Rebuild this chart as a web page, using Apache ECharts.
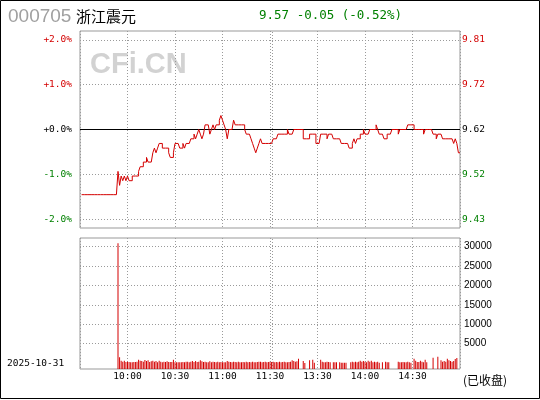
<!DOCTYPE html>
<html><head><meta charset="utf-8">
<script src="https://cdn.jsdelivr.net/npm/echarts@6/dist/echarts.min.js"></script>
<style>html,body{margin:0;padding:0;background:#fff}#c{width:540px;height:400px}</style>
</head><body><div id="c"></div>
<script>
// ---- data ----
const stockCode = '000705';
const stockName = '浙江震元';
const tradeDate = '2025-10-31';
const statusText = '(已收盘)';
const watermark = 'CFi.CN';
const prevClose = 9.62;
const lastPrice = 9.57;
// minute-by-minute price, minute 1 (9:31) ... minute 240 (15:00)
const prices = [
 9.48,9.48,9.48,9.48,9.48,9.48,9.48,9.48,9.48,9.48,9.48,9.48,9.48,9.48,9.48,9.48,9.48,9.48,9.48,9.48,9.48,9.48,9.48,
 9.53,9.50,9.52,9.51,9.52,9.51,9.52,9.51,9.51,9.52,9.52,9.52,9.52,9.53,9.54,9.54,9.55,
 9.55,9.56,9.55,9.55,9.55,9.57,9.58,9.57,9.58,9.59,9.59,9.58,9.58,9.58,9.58,9.57,9.56,9.56,9.57,9.59,
 9.59,9.59,9.58,9.58,9.59,9.58,9.59,9.59,9.59,9.60,9.60,9.61,9.60,9.61,9.62,9.61,9.60,9.61,9.63,9.63,
 9.63,9.61,9.62,9.63,9.62,9.63,9.63,9.64,9.65,9.64,9.63,9.62,9.60,9.62,9.62,9.62,9.64,9.63,9.63,9.63,
 9.63,9.63,9.63,9.62,9.61,9.61,9.61,9.60,9.59,9.58,9.57,9.58,9.59,9.60,9.59,9.59,9.59,9.59,9.59,9.59,
 9.59,9.60,9.60,9.60,9.61,9.61,9.61,9.61,9.61,9.61,9.62,9.61,9.61,9.61,9.62,9.62,9.62,9.62,9.62,9.62,
 9.60,9.60,9.60,9.60,9.61,9.61,9.61,9.61,9.59,9.59,9.59,9.61,9.61,9.61,9.61,9.60,9.61,9.61,9.61,9.60,
 9.60,9.60,9.60,9.60,9.59,9.59,9.59,9.59,9.59,9.58,9.58,9.59,9.60,9.59,9.60,9.60,9.61,9.61,9.62,9.61,
 9.61,9.61,9.62,9.62,9.62,9.62,9.63,9.62,9.61,9.61,9.61,9.60,9.60,9.61,9.61,9.61,9.62,9.62,9.62,9.62,
 9.61,9.62,9.62,9.62,9.62,9.62,9.63,9.63,9.63,9.63,9.62,9.62,9.62,9.62,9.62,9.62,9.61,9.62,9.62,9.62,
 9.62,9.62,9.61,9.61,9.60,9.61,9.61,9.61,9.60,9.60,9.60,9.60,9.60,9.60,9.60,9.59,9.60,9.59,9.57,9.57
];
const volumes = [
 0,0,0,0,0,0,0,0,0,0,0,0,0,0,0,0,0,0,0,0,0,0,0,
 32300,3000,2140,1890,2140,1800,1890,1800,1710,1710,1800,1800,1890,2400,2140,2060,1890,
 2310,2060,2230,1800,1970,2140,1890,2060,1710,2140,1890,1710,1890,1800,1970,1800,1800,1800,2400,1710,
 1710,1710,1710,1710,1800,1710,1890,1890,1710,1890,2060,1800,2060,1800,1890,2230,1970,1800,1890,1710,
 1710,1970,1710,1890,1800,1710,1890,1710,1800,1710,1710,1710,2060,1890,1800,1710,1890,1800,1710,1890,
 1710,1710,1800,1710,1890,1710,1800,1710,1890,1710,1710,1800,1890,1890,1710,1800,1890,1710,1800,1890,
 1800,1890,1710,1800,1710,1890,1710,1800,1890,1710,1710,1800,1890,2230,2060,1890,1970,2660,0,0,
 2060,1540,0,0,2230,0,2400,1630,0,0,0,2400,1890,1710,1710,1890,1800,1710,0,1710,
 1710,1710,0,1710,1630,1630,1630,1630,0,0,1710,1890,1710,1890,1710,1890,2140,1890,2060,1890,
 1710,2140,1890,2140,1710,1890,1710,1890,1630,0,1710,0,1890,1710,1710,0,0,0,0,0,
 1890,1710,1710,1800,1710,1710,1890,1710,1630,0,2660,2140,1800,1800,2140,1890,1710,2400,1710,0,
 0,0,2910,0,0,3170,0,2230,1890,2060,1890,2660,2230,2060,1890,2060,2580,2830,0,0
];
const timeTickMinutes = [30, 60, 90, 120, 150, 180, 210];
const timeLabels = ['10:00', '10:30', '11:00', '11:30', '13:30', '14:00', '14:30'];
const lunchMinute = 121.3;
const pctTicks = [-2, -1, 0, 1, 2];
const volTicks = [5000, 10000, 15000, 20000, 25000, 30000];

// ---- chart ----
const RED = '#d40000', GREEN = '#008000', GRID = '#9a9a9a';
const MONO = 'DejaVu Sans Mono';
const labelMap = {};
timeTickMinutes.forEach((m, i) => labelMap[m] = timeLabels[i]);
const pctColor = v => v > 0 ? RED : (v < 0 ? GREEN : '#000');
const dotted = { color: GRID, type: [1, 2], width: 1 };

const priceData = prices.map((p, i) => [i + 1, (p / prevClose - 1) * 100]);
const volData = volumes.map((v, i) => [i + 1, v]);
const chg = lastPrice - prevClose;
const header = lastPrice.toFixed(2) + ' ' + chg.toFixed(2) + ' (' + (chg / prevClose * 100).toFixed(2) + '%)';

const chart = echarts.init(document.getElementById('c'), null, { renderer: 'canvas' });
chart.setOption({
  animation: false,
  backgroundColor: '#fff',
  grid: [
    { left: 80, top: 31, width: 380, height: 197, show: true, borderColor: '#999', borderWidth: 1, backgroundColor: 'transparent' },
    { left: 80, top: 238, width: 380, height: 131, show: true, borderColor: '#999', borderWidth: 1, backgroundColor: 'transparent' }
  ],
  xAxis: [
    { type: 'value', gridIndex: 0, min: 0, max: 240, interval: 30,
      axisLine: { show: false }, axisTick: { show: false }, axisLabel: { show: false },
      splitLine: { show: true, lineStyle: dotted } },
    { type: 'value', gridIndex: 1, min: 0, max: 240, interval: 30,
      axisLine: { show: false }, axisTick: { show: false },
      axisLabel: { show: true, margin: 3, color: '#000', fontFamily: MONO, fontSize: 9.5,
        showMinLabel: false, showMaxLabel: false, formatter: v => labelMap[v] || '' },
      splitLine: { show: true, lineStyle: dotted } }
  ],
  yAxis: [
    { type: 'value', gridIndex: 0, position: 'left', min: -2.2, max: 2.2,
      axisLine: { show: false }, axisTick: { show: false }, splitLine: { show: false },
      axisLabel: { customValues: pctTicks, margin: 8, fontFamily: MONO, fontSize: 9.5,
        color: v => pctColor(v),
        formatter: v => (v >= 0 ? '+' : '') + v.toFixed(1) + '%' } },
    { type: 'value', gridIndex: 0, position: 'right', min: -2.2, max: 2.2,
      axisLine: { show: false }, axisTick: { show: false }, splitLine: { show: false },
      axisLabel: { customValues: pctTicks, margin: 2, fontFamily: MONO, fontSize: 9.5,
        color: v => pctColor(v),
        formatter: v => (prevClose * (1 + v / 100)).toFixed(2) } },
    { type: 'value', gridIndex: 1, position: 'left', min: 0, max: 33680, show: false },
    { type: 'value', gridIndex: 1, position: 'right', min: -1500, max: 32180,
      axisLine: { show: false }, axisTick: { show: false }, splitLine: { show: false },
      axisLabel: { customValues: volTicks, margin: 4, color: '#000', fontFamily: 'Liberation Sans', fontSize: 10,
        formatter: v => String(Math.round(v)) } }
  ],
  series: [
    { type: 'line', xAxisIndex: 0, yAxisIndex: 0, data: priceData, showSymbol: false, silent: true,
      step: 'end', lineStyle: { color: RED, width: 1 },
      markLine: { silent: true, symbol: 'none', z: 1, label: { show: false }, animation: false,
        data: [
          ...pctTicks.filter(v => v !== 0).map(v => ({ yAxis: v, lineStyle: dotted })),
          { xAxis: lunchMinute, lineStyle: dotted },
          { yAxis: 0, lineStyle: { color: '#000', type: 'solid', width: 1 } }
        ] } },
    { type: 'bar', xAxisIndex: 1, yAxisIndex: 2, data: volData, barWidth: 1, silent: true,
      itemStyle: { color: RED } },
    { type: 'line', xAxisIndex: 1, yAxisIndex: 3, data: [], silent: true,
      markLine: { silent: true, symbol: 'none', z: 1, label: { show: false }, animation: false,
        data: [
          ...volTicks.map(v => ({ yAxis: v, lineStyle: dotted })),
          { xAxis: lunchMinute, lineStyle: dotted }
        ] } }
  ],
  graphic: [
    { type: 'text', z: 0, silent: true, x: 90, y: 65,
      style: { text: watermark, fill: '#d2d2d2', fontFamily: 'Liberation Sans', fontWeight: 'bold', fontSize: 29, verticalAlign: 'middle' } },
    { type: 'text', silent: true, x: 8, y: 17,
      style: { text: stockCode, fill: '#a0a0a0', fontFamily: 'Liberation Sans', fontSize: 19, verticalAlign: 'middle' } },
    { type: 'text', silent: true, x: 76, y: 16,
      style: { text: stockName, fill: '#000', fontFamily: 'Noto Sans CJK SC', fontSize: 15, verticalAlign: 'middle' } },
    { type: 'text', silent: true, x: 259, y: 15.5,
      style: { text: header, fill: GREEN, fontFamily: MONO, fontSize: 12.5, verticalAlign: 'middle' } },
    { type: 'text', silent: true, x: 7, y: 363.5,
      style: { text: tradeDate, fill: '#000', fontFamily: MONO, fontSize: 9.5, verticalAlign: 'middle' } },
    { type: 'text', silent: true, x: 463, y: 380,
      style: { text: statusText, fill: '#000', fontFamily: 'Noto Sans CJK SC', fontSize: 12, verticalAlign: 'middle' } },
    { type: 'rect', silent: true, z: 100, shape: { x: 0.5, y: 0.5, width: 539, height: 398 },
      style: { fill: null, stroke: '#000', lineWidth: 1 } }
  ]
});
</script></body></html>
